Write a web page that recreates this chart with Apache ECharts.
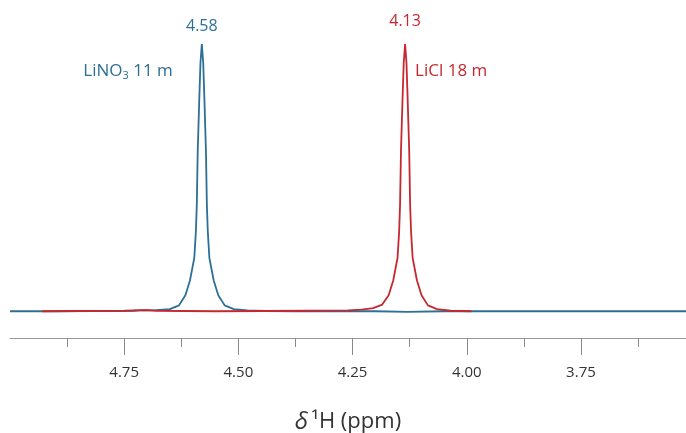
<!DOCTYPE html>
<html>
<head>
<meta charset="utf-8">
<script src="https://cdn.jsdelivr.net/npm/echarts@6/dist/echarts.min.js"></script>
<style>
  html, body { margin: 0; padding: 0; background: #fff; }
  #chart { width: 686px; height: 433px; }
</style>
</head>
<body>
<div id="chart"></div>
<script>
// LiNO3 11 m (blue), peak at 4.58 ppm
var nitrateShift = [5.00, 4.90, 4.82, 4.76, 4.73, 4.71, 4.69, 4.68, 4.65, 4.63, 4.616, 4.606, 4.5965, 4.593,
  4.591, 4.589, 4.5855, 4.583, 4.580, 4.577, 4.5745, 4.571, 4.569, 4.567, 4.5635, 4.554, 4.544, 4.53,
  4.51, 4.48, 4.44, 4.38, 4.30, 4.20, 4.13, 4.05, 3.95, 3.80, 3.70, 3.60, 3.52];
var nitrateIntensity = [0.000, 0.000, 0.001, 0.001, 0.002, 0.004, 0.003, 0.004, 0.008, 0.022, 0.060, 0.115, 0.20, 0.30,
  0.40, 0.60, 0.80, 0.93, 1.00, 0.93, 0.80, 0.60, 0.40, 0.30, 0.20, 0.115, 0.060, 0.022,
  0.008, 0.003, 0.001, 0.000, 0.000, 0.000, -0.002, 0.000, 0.000, 0.000, 0.000, 0.000, 0.000];

// LiCl 18 m (red), peak at 4.135 ppm
var chlorideShift = [4.93, 4.85, 4.75, 4.70, 4.68, 4.62, 4.55, 4.45, 4.35, 4.26, 4.23, 4.205, 4.185,
  4.171, 4.161, 4.1515, 4.148, 4.146, 4.144, 4.1405, 4.138, 4.135, 4.132, 4.1295, 4.126, 4.124, 4.122,
  4.1185, 4.109, 4.099, 4.085, 4.065, 4.035, 3.99];
var chlorideIntensity = [0.000, 0.001, 0.002, 0.004, 0.002, 0.001, 0.000, 0.001, 0.002, 0.003, 0.006, 0.012, 0.025,
  0.060, 0.115, 0.20, 0.30, 0.40, 0.60, 0.80, 0.93, 1.00, 0.93, 0.80, 0.60, 0.40, 0.30,
  0.20, 0.115, 0.060, 0.022, 0.008, 0.002, 0.000];

var majorTicks = [4.75, 4.50, 4.25, 4.00, 3.75];
var minorTicks = [4.875, 4.625, 4.375, 4.125, 3.875, 3.625];

var blue = "#2c6f97";
var red = "#c6282f";

function pairs(xs, ys) {
  var out = [];
  for (var i = 0; i < xs.length; i++) out.push([xs[i], ys[i]]);
  return out;
}

var myChart = echarts.init(document.getElementById("chart"));
var font = "Open Sans";

var option = {
  animation: false,
  textStyle: { fontFamily: font },
  grid: { left: 10, right: 0, top: 44, bottom: 95, outerBoundsMode: "none" },
  xAxis: [
    {
      type: "value",
      inverse: true,
      min: 3.52,
      max: 5.0,
      position: "bottom",
      splitLine: { show: false },
      axisLine: { onZero: false, lineStyle: { color: "#999", width: 1 } },
      axisTick: { customValues: majorTicks, length: 17, lineStyle: { color: "#888" } },
      axisLabel: {
        customValues: majorTicks,
        margin: 27,
        fontSize: 15,
        color: "#333",
        formatter: function (v) { return v.toFixed(2); }
      },
      name: "{i|δ} {n|¹H (ppm)}",
      nameLocation: "middle",
      nameGap: 72,
      nameTextStyle: {
        rich: {
          i: { fontSize: 24, fontStyle: "italic", color: "#333", fontFamily: font },
          n: { fontSize: 22, color: "#333", fontFamily: font }
        }
      }
    },
    {
      // minor ticks only
      type: "value",
      inverse: true,
      min: 3.52,
      max: 5.0,
      position: "bottom",
      splitLine: { show: false },
      axisLine: { show: false, onZero: false },
      axisTick: { customValues: minorTicks, length: 9, lineStyle: { color: "#888" } },
      axisLabel: { show: false }
    }
  ],
  yAxis: {
    type: "value",
    min: -0.1,
    max: 1.0,
    show: false
  },
  series: [
    {
      type: "line",
      name: "LiNO3 11 m",
      data: pairs(nitrateShift, nitrateIntensity),
      showSymbol: false,
      lineStyle: { color: blue, width: 1.8 },
      itemStyle: { color: blue },
      markPoint: {
        symbol: "circle",
        symbolSize: 0,
        data: [
          {
            coord: [4.58, 1.0],
            label: { show: true, position: "top", distance: 10, formatter: "4.58", color: blue, fontSize: 16 }
          },
          {
            coord: [4.58, 0.9],
            label: {
              show: true, position: "left", distance: 29,
              formatter: "{a|LiNO}{s|3}{a| 11 m}",
              rich: {
                a: { color: blue, fontSize: 17, fontFamily: font, lineHeight: 20 },
                s: { color: blue, fontSize: 11, fontFamily: font, lineHeight: 20, padding: [11, 0, 0, 0] }
              }
            }
          }
        ]
      }
    },
    {
      type: "line",
      name: "LiCl 18 m",
      data: pairs(chlorideShift, chlorideIntensity),
      showSymbol: false,
      lineStyle: { color: red, width: 1.8 },
      itemStyle: { color: red },
      markPoint: {
        symbol: "circle",
        symbolSize: 0,
        data: [
          {
            coord: [4.135, 1.0],
            label: { show: true, position: "top", distance: 15, formatter: "4.13", color: red, fontSize: 16 }
          },
          {
            coord: [4.135, 0.9],
            label: { show: true, position: "right", distance: 10, formatter: "LiCl 18 m", color: red, fontSize: 17 }
          }
        ]
      }
    }
  ]
};

myChart.setOption(option);
</script>
</body>
</html>
